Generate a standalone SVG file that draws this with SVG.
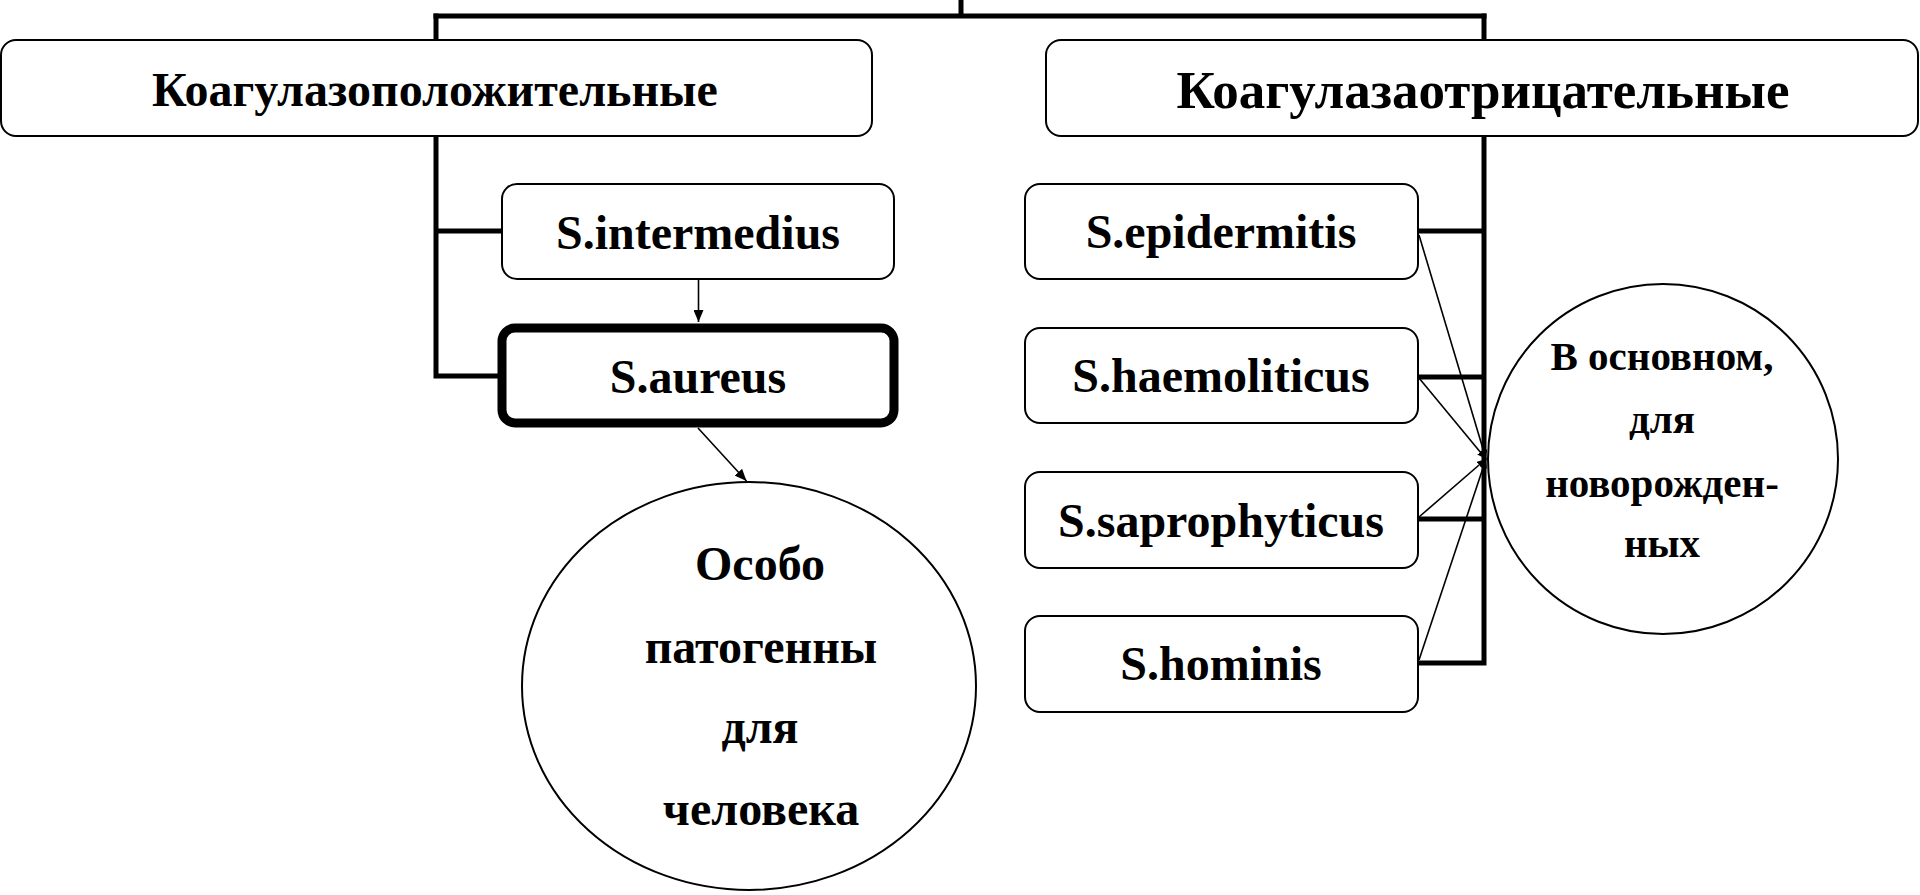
<svg xmlns="http://www.w3.org/2000/svg" width="1920" height="895" viewBox="0 0 1920 895">
  <style>
    .box { fill: #fff; stroke: #000; stroke-width: 2; }
    .box-strong { fill: #fff; stroke: #000; stroke-width: 9; }
    .oval { fill: #fff; stroke: #000; stroke-width: 2; }
    .trunk { fill: none; stroke: #000; stroke-width: 5; stroke-linecap: square; }
    .link { fill: none; stroke: #000; stroke-width: 1.6; }
    text { font-family: "Liberation Serif", "Times New Roman", serif; font-weight: bold; fill: #000; text-anchor: middle; }
    .t48 { font-size: 48px; }
    .t53 { font-size: 53px; }
    .t40 { font-size: 41px; }
  </style>
  <defs>
    <marker id="arrow" viewBox="0 0 12 10" refX="12" refY="5" markerWidth="12" markerHeight="10" markerUnits="userSpaceOnUse" orient="auto">
      <path d="M0,0 L12,5 L0,10 Z" fill="#000"/>
    </marker>
    <marker id="arrow-small" viewBox="0 0 9 8" refX="9" refY="4" markerWidth="9" markerHeight="8" markerUnits="userSpaceOnUse" orient="auto">
      <path d="M0,0 L9,4 L0,8 Z" fill="#000"/>
    </marker>
  </defs>

  <!-- tree lines and arrows -->
  <g id="connectors">
    <path class="trunk" d="M961,0 V16 M436,16 H1484"/>
    <path class="trunk" d="M436,16 V40 M436,136 V376 H497 M436,231 H502"/>
    <path class="trunk" d="M1484,16 V40 M1484,136 V663 H1418 M1418,231 H1484 M1418,377 H1484 M1418,519 H1484"/>
    <line class="link" x1="698.5" y1="279" x2="698.5" y2="322" marker-end="url(#arrow)"/>
    <line class="link" x1="698" y1="428" x2="746.5" y2="481" marker-end="url(#arrow)"/>
    <line class="link" x1="1419" y1="235" x2="1486" y2="459" marker-end="url(#arrow-small)"/>
    <line class="link" x1="1419" y1="378" x2="1486" y2="459" marker-end="url(#arrow-small)"/>
    <line class="link" x1="1419" y1="517" x2="1486" y2="459" marker-end="url(#arrow-small)"/>
    <line class="link" x1="1419" y1="660" x2="1486" y2="459" marker-end="url(#arrow-small)"/>
  </g>

  <g id="coag-positive">
    <rect class="box" x="1" y="40" width="871" height="96" rx="15"/>
    <text class="t48" x="435" y="106">Коагулазоположительные</text>
  </g>
  <g id="coag-negative">
    <rect class="box" x="1046" y="40" width="872" height="96" rx="15"/>
    <text class="t53" x="1483" y="108">Коагулазаотрицательные</text>
  </g>

  <g id="s-intermedius">
    <rect class="box" x="502" y="184" width="392" height="95" rx="15"/>
    <text class="t48" x="698" y="249">S.intermedius</text>
  </g>
  <g id="s-aureus">
    <rect class="box-strong" x="502" y="328" width="392" height="95" rx="13"/>
    <text class="t48" x="698" y="393">S.aureus</text>
  </g>
  <g id="pathogenic">
    <ellipse class="oval" cx="749" cy="686" rx="227" ry="204"/>
    <text class="t48" x="760" y="580">Особо</text>
    <text class="t48" x="761" y="663">патогенны</text>
    <text class="t48" x="760" y="743">для</text>
    <text class="t48" x="761" y="825">человека</text>
  </g>

  <g id="s-epidermitis">
    <rect class="box" x="1025" y="184" width="393" height="95" rx="15"/>
    <text class="t48" x="1221" y="248">S.epidermitis</text>
  </g>
  <g id="s-haemoliticus">
    <rect class="box" x="1025" y="328" width="393" height="95" rx="15"/>
    <text class="t48" x="1221" y="392">S.haemoliticus</text>
  </g>
  <g id="s-saprophyticus">
    <rect class="box" x="1025" y="472" width="393" height="96" rx="15"/>
    <text class="t48" x="1221" y="537">S.saprophyticus</text>
  </g>
  <g id="s-hominis">
    <rect class="box" x="1025" y="616" width="393" height="96" rx="15"/>
    <text class="t48" x="1221" y="680">S.hominis</text>
  </g>

  <g id="newborns">
    <circle class="oval" cx="1663" cy="459" r="175"/>
    <text class="t40" x="1662" y="370">В основном,</text>
    <text class="t40" x="1662" y="433">для</text>
    <text class="t40" x="1662" y="497">новорожден-</text>
    <text class="t40" x="1662" y="557">ных</text>
  </g>
</svg>
